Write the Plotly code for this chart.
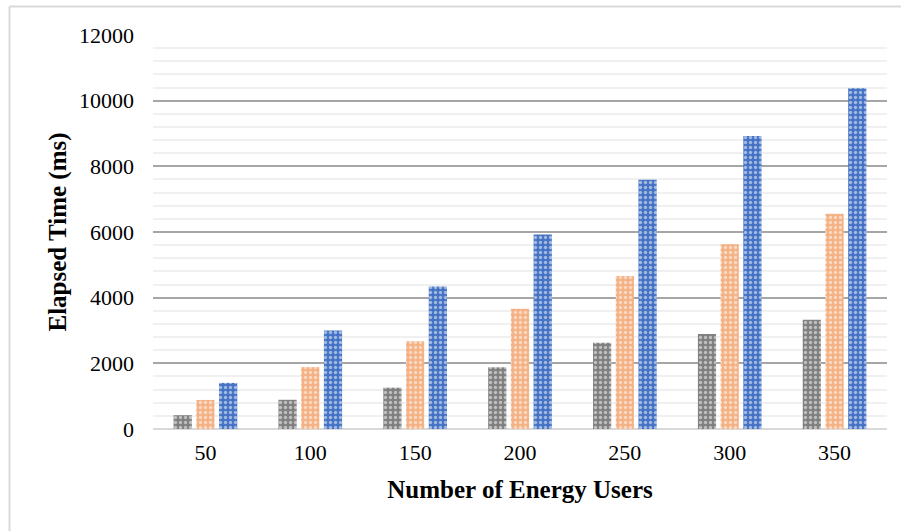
import plotly.graph_objects as go

categories = ["50", "100", "150", "200", "250", "300", "350"]
series_gray = [420, 890, 1260, 1880, 2625, 2890, 3330]
series_orange = [885, 1885, 2670, 3665, 4660, 5630, 6555]
series_blue = [1405, 3000, 4340, 5925, 7590, 8925, 10380]
y_ticks = [0, 2000, 4000, 6000, 8000, 10000, 12000]

colors = ["#7f7f7f", "#f4b183", "#4472c4"]
names = ["Series 1", "Series 2", "Series 3"]

fig = go.Figure()
for vals, col, nm in zip([series_gray, series_orange, series_blue], colors, names):
    fig.add_trace(go.Bar(
        x=categories, y=vals, name=nm,
        marker=dict(
            color=col,
            line=dict(width=0),
            pattern=dict(shape=".", fgcolor="white", bgcolor=col, size=5, solidity=0.35),
        ),
    ))

W, H = 901, 531
ml, mr, mt, mb = 153, 14, 35, 102
pw = W - ml - mr
ph = H - mt - mb

def px_x(x):
    return (x - ml) / pw

def px_y(y):
    return (H - mb - y) / ph

border = "#d9d9d9"
shapes = [
    dict(type="line", xref="paper", yref="paper", x0=px_x(9.5), x1=px_x(901), y0=px_y(6.5), y1=px_y(6.5),
         line=dict(color=border, width=2)),
    dict(type="line", xref="paper", yref="paper", x0=px_x(9.5), x1=px_x(9.5), y0=px_y(6.5), y1=px_y(531),
         line=dict(color=border, width=2)),
]

font_family = "Liberation Serif, Times New Roman, serif"
fig.update_layout(
    width=W, height=H,
    margin=dict(l=ml, r=mr, t=mt, b=mb, pad=0),
    paper_bgcolor="white", plot_bgcolor="white",
    showlegend=False,
    barmode="group", bargap=0.35, bargroupgap=0.2,
    font=dict(family=font_family, size=22, color="#000000"),
    shapes=shapes,
    xaxis=dict(
        title=dict(text="<b>Number of Energy Users</b>", font=dict(size=25), standoff=16),
        tickfont=dict(size=22), showgrid=False, showline=False, ticks="",
        ticklabelstandoff=8,
    ),
    yaxis=dict(
        title=dict(text="<b>Elapsed Time (ms)</b>", font=dict(size=25), standoff=5),
        range=[0, 12000], tickvals=y_ticks, ticktext=[str(v) for v in y_ticks],
        tickfont=dict(size=22),
        showgrid=True, gridcolor="#a6a6a6", gridwidth=1.5,
        minor=dict(dtick=400, tick0=0, showgrid=True, gridcolor="#f0f0f0", gridwidth=1.5),
        zeroline=True, zerolinecolor="#d9d9d9", zerolinewidth=2,
        showline=False, ticks="", ticklabelstandoff=18,
    ),
)

fig.write_html(
    "out.html",
    config={"displayModeBar": False},
    post_script="document.body.style.margin='0';document.body.style.overflow='hidden';",
)
